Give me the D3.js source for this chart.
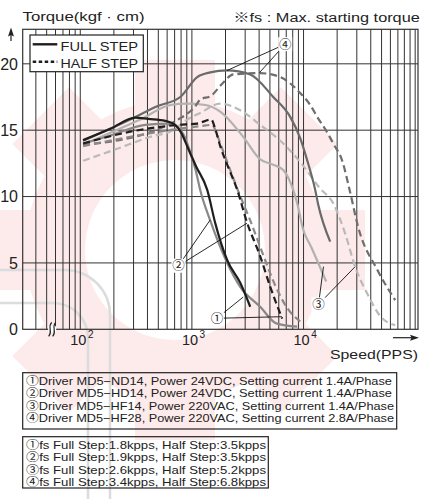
<!DOCTYPE html>
<html><head><meta charset="utf-8">
<script src="https://cdn.jsdelivr.net/npm/d3@7"></script>
<style>body{margin:0;background:#fff}svg{display:block}</style>
</head><body><svg id="c" width="433" height="499"></svg>
<script>
// ---------------- data ----------------
const torqueTicks = [0, 5, 10, 15, 20];
const speedGrid = [40, 50, 60, 70, 80, 90, 100, 200, 300, 400, 500, 600, 700, 800, 900,
  1000, 2000, 3000, 4000, 5000, 6000, 7000, 8000, 9000, 10000, 20000, 30000, 40000, 50000,
  60000, 70000, 80000, 90000, 100000];
const decadeTicks = [100, 1000, 10000];
const decadeExps = ["2", "3", "4"];

// [speed (pps), torque (kgf·cm)]
const s1Full = [[106,14.25],[186,15.1],[311,15.95],[406,15.85],[577,15.7],[709,15.4],[803,14.8],[927,13.6],[1094,12.25],[1372,10.5],[1618,8.0],[2072,5.2],[2709,3.5],[3330,1.7]];
const s1Half = [[106,14.0],[286,14.9],[754,15.4],[1116,15.5],[1490,15.8],[1618,15.1],[1794,13.8],[2072,12.4],[2547,10.5],[3130,8.0],[4092,5.5],[5030,3.2],[6441,0.8]];
const s2Full = [[106,14.0],[186,14.6],[382,15.4],[653,15.5],[724,15.3],[872,14.4],[986,13.1],[1094,11.8],[1187,10.5],[1459,8.2],[2072,5.0],[2709,3.2],[4092,1.7],[5692,0.45],[8773,0.2]];
const s2Half = [[106,13.8],[280,14.5],[754,15.1],[1187,15.3],[1521,15.4],[1686,14.6],[1989,13.0],[2547,10.6],[3330,8.2],[4265,5.8],[5576,3.3],[7140,1.6],[9335,0.6]];
const s3Full = [[106,13.9],[186,14.8],[345,15.8],[640,16.9],[908,17.0],[1316,16.9],[1794,16.4],[2883,14.5],[4092,12.8],[5350,12.4],[6575,12.0],[8079,10.5],[8773,9.5],[9930,7.5],[11710,6.2],[15950,3.6]];
const s3Half = [[106,12.7],[214,13.6],[424,14.5],[680,15.0],[908,15.8],[1187,16.3],[1794,17.0],[2709,16.5],[4092,15.4],[6575,14.0],[9335,12.6],[14100,10.6],[18430,9.5],[23610,7.2],[29010,4.7],[37160,2.7],[48580,1.0],[66200,0.3]];
const s4Full = [[106,14.2],[280,15.8],[489,16.8],[786,17.5],[1116,19.0],[1459,19.35],[2059,19.5],[3330,19.2],[5350,17.5],[7596,16.0],[9335,14.4],[10720,12.8],[12720,10.5],[13530,9.4],[17330,6.6]];
const s4Half = [[106,13.9],[470,15.0],[754,15.8],[1071,16.8],[1187,17.3],[1490,17.6],[1869,18.5],[2345,19.2],[4092,19.3],[6180,19.0],[9335,17.8],[11470,16.9],[13260,16.0],[16630,14.7],[18430,14.0],[22190,12.7],[26180,10.3],[30860,7.7],[45650,4.5],[66200,2.2]];

const legendLabels = ["FULL STEP", "HALF STEP"];
const driverNotes = [
  "①Driver MD5−ND14, Power 24VDC, Setting current 1.4A/Phase",
  "②Driver MD5−HD14, Power 24VDC, Setting current 1.4A/Phase",
  "③Driver MD5−HF14, Power 220VAC, Setting current 1.4A/Phase",
  "④Driver MD5−HF28, Power 220VAC, Setting current 2.8A/Phase"];
const fsNotes = [
  "①fs Full Step:1.8kpps, Half Step:3.5kpps",
  "②fs Full Step:1.9kpps, Half Step:3.5kpps",
  "③fs Full Step:2.6kpps, Half Step:5.2kpps",
  "④fs Full Step:3.4kpps, Half Step:6.8kpps"];
// callouts: label position and target points, in data units
const callouts = [
  {t:"①", at:[1675,0.83], to:[[2883,2.43],[6400,0.95]]},
  {t:"②", at:[759,4.79], to:[[1459,8.24],[3110,7.99]]},
  {t:"③", at:[13614,1.88], to:[[15090,4.72],[29010,4.72]]},
  {t:"④", at:[6852,21.48], to:[[2059,19.49],[4033,19.34]]}];

// ---------------- drawing ----------------
const svg = d3.select("#c");
const L = 22.7, R = 418, T = 29.3, B = 329.3;
const x = d3.scaleLog().domain([30.5, 106000]).range([L, R]);
const y = d3.scaleLinear().domain([0, 22.6]).range([B, T]);
const FONT = "'Liberation Sans', Arial, 'Noto Sans CJK KR', sans-serif";

// faint watermark
const wm = svg.append("g");
const gcx = 175, gcy = 250;
const teeth = d3.range(8).map(i => i * 45);
wm.selectAll("rect.tooth").data(teeth).join("rect")
  .attr("x", -40).attr("y", -190).attr("width", 80).attr("height", 60)
  .attr("transform", d => `translate(${gcx},${gcy}) rotate(${d})`)
  .attr("fill", "#fdeaea");
wm.append("path").attr("transform", `translate(${gcx},${gcy})`)
  .attr("d", d3.arc()({innerRadius: 90, outerRadius: 150, startAngle: 0, endAngle: 2 * Math.PI}))
  .attr("fill", "#fdeaea");
wm.append("rect").attr("x", -90).attr("y", 270).attr("width", 200).attr("height", 300).attr("rx", 45)
  .attr("fill", "none").attr("stroke", "#dcdcdc").attr("stroke-width", 2.5);
wm.append("rect").attr("x", -90).attr("y", 303).attr("width", 178).attr("height", 250).attr("rx", 35)
  .attr("fill", "none").attr("stroke", "#dcdcdc").attr("stroke-width", 2.5);

// grid
svg.append("g").selectAll("line").data(speedGrid).join("line")
  .attr("x1", d => x(d)).attr("x2", d => x(d)).attr("y1", T).attr("y2", B)
  .attr("stroke", "#333").attr("stroke-width", 1);
svg.append("g").selectAll("line").data(torqueTicks.filter(d => d > 0)).join("line")
  .attr("x1", L).attr("x2", R).attr("y1", d => y(d)).attr("y2", d => y(d))
  .attr("stroke", "#333").attr("stroke-width", 1);
svg.append("rect").attr("x", L).attr("y", T).attr("width", R - L).attr("height", B - T)
  .attr("fill", "none").attr("stroke", "#333").attr("stroke-width", 1.2);

// y labels
svg.append("g").selectAll("text").data(torqueTicks).join("text")
  .attr("x", 18).attr("y", d => y(d)).attr("dy", "0.36em").attr("text-anchor", "end")
  .attr("font-family", FONT).attr("font-size", 16).attr("fill", "#222").text(d => d);

// x labels
const xl = svg.append("g").selectAll("text").data(decadeTicks).join("text")
  .attr("x", d => x(d) - 10).attr("y", 345)
  .attr("font-family", FONT).attr("font-size", 14.5).attr("fill", "#222");
xl.append("tspan").text("10");
xl.append("tspan").attr("font-size", 10).attr("dy", -7).attr("dx", 1.5).text((d, i) => decadeExps[i]);

// axis break mark
const bx = x(56);
svg.append("rect").attr("x", bx - 4).attr("y", B - 3).attr("width", 8).attr("height", 6).attr("fill", "#fff");
[-2, 2].forEach(o => {
  svg.append("path").attr("d", `M${bx + o - 1.5},${B + 7} C${bx + o + 3},${B + 2} ${bx + o - 3},${B - 2} ${bx + o + 1.5},${B - 7}`)
    .attr("fill", "none").attr("stroke", "#222").attr("stroke-width", 1.2);
});

// curves
const line = d3.line().x(d => x(d[0])).y(d => y(d[1])).curve(d3.curveMonotoneX);
const seriesDefs = [
  {d: s3Half, c: "#bababa", dash: "7,4"},
  {d: s3Full, c: "#b2b2b2", dash: null},
  {d: s4Half, c: "#6e6e6e", dash: "7,4"},
  {d: s4Full, c: "#6a6a6a", dash: null},
  {d: s2Half, c: "#8a8a8a", dash: "7,4"},
  {d: s2Full, c: "#888888", dash: null},
  {d: s1Half, c: "#1e1e1e", dash: "7,4"},
  {d: s1Full, c: "#1e1e1e", dash: null}];
svg.append("g").selectAll("path").data(seriesDefs).join("path")
  .attr("d", s => line(s.d)).attr("fill", "none").attr("stroke", s => s.c)
  .attr("stroke-width", 2.2).attr("stroke-dasharray", s => s.dash);

// callouts
const cg = svg.append("g");
callouts.forEach(c => {
  c.to.forEach(p => cg.append("line")
    .attr("x1", x(c.at[0])).attr("y1", y(c.at[1])).attr("x2", x(p[0])).attr("y2", y(p[1]))
    .attr("stroke", "#111").attr("stroke-width", 0.9));
});
callouts.forEach(c => {
  cg.append("rect").attr("x", x(c.at[0]) - 7).attr("y", y(c.at[1]) - 7).attr("width", 14).attr("height", 14).attr("fill", "#fff");
  cg.append("text").attr("x", x(c.at[0])).attr("y", y(c.at[1])).attr("dy", "0.36em").attr("text-anchor", "middle")
    .attr("font-family", "'Noto Sans CJK KR', 'DejaVu Sans', sans-serif").attr("font-size", 12.5).attr("fill", "#222").text(c.t);
});

// legend
const lg = svg.append("g");
lg.append("rect").attr("x", 30).attr("y", 35).attr("width", 113.3).attr("height", 36.7)
  .attr("fill", "#fff").attr("stroke", "#222").attr("stroke-width", 1.2);
legendLabels.forEach((t, i) => {
  const yy = 44.3 + i * 17.4;
  lg.append("line").attr("x1", 32.7).attr("x2", 57.3).attr("y1", yy).attr("y2", yy)
    .attr("stroke", "#1e1e1e").attr("stroke-width", 2.4).attr("stroke-dasharray", i ? "3.5,2.5" : null);
  lg.append("text").attr("x", 60.5).attr("y", yy + 6.2).attr("font-family", FONT).attr("font-size", 13.5)
    .attr("fill", "#222").attr("textLength", 77.5).attr("lengthAdjust", "spacingAndGlyphs").text(t);
});

// titles
svg.append("text").attr("x", 22.5).attr("y", 21).attr("font-family", FONT).attr("font-size", 13)
  .attr("fill", "#222").attr("textLength", 122).attr("lengthAdjust", "spacingAndGlyphs").text("Torque(kgf · cm)");
svg.append("text").attr("x", 233.3).attr("y", 21.5).attr("font-family", FONT).attr("font-size", 12.5)
  .attr("fill", "#222").attr("textLength", 186.5).attr("lengthAdjust", "spacingAndGlyphs").text("※fs : Max. starting torque");
svg.append("text").attr("x", 330).attr("y", 359).attr("font-family", FONT).attr("font-size", 13.5)
  .attr("fill", "#222").attr("textLength", 88).attr("lengthAdjust", "spacingAndGlyphs").text("Speed(PPS)");

// arrows
svg.append("line").attr("x1", 393).attr("x2", 413).attr("y1", 337.7).attr("y2", 337.7).attr("stroke", "#222").attr("stroke-width", 1.2);
svg.append("path").attr("d", "M419,337.7 L410,334.7 L411.5,337.7 L410,340.7 Z").attr("fill", "#222");
svg.append("line").attr("x1", 11).attr("x2", 11).attr("y1", 41).attr("y2", 33).attr("stroke", "#222").attr("stroke-width", 1.2);
svg.append("path").attr("d", "M11,27.5 L8,36.5 L11,35 L14,36.5 Z").attr("fill", "#222");

// notes boxes
const nb1 = svg.append("g");
nb1.append("rect").attr("x", 22.7).attr("y", 372.7).attr("width", 374).attr("height", 56.3)
  .attr("fill", "none").attr("stroke", "#222").attr("stroke-width", 1.2);
nb1.selectAll("text").data(driverNotes).join("text")
  .attr("x", 26).attr("y", (d, i) => 385 + i * 12.3).attr("font-family", FONT).attr("font-size", 11.5)
  .attr("fill", "#222").attr("textLength", (d, i) => i < 2 ? 366 : 368).attr("lengthAdjust", "spacingAndGlyphs").text(d => d);
const nb2 = svg.append("g");
nb2.append("rect").attr("x", 22.7).attr("y", 436.7).attr("width", 245.6).attr("height", 51.3)
  .attr("fill", "none").attr("stroke", "#222").attr("stroke-width", 1.2);
nb2.selectAll("text").data(fsNotes).join("text")
  .attr("x", 26).attr("y", (d, i) => 449 + i * 12.3).attr("font-family", FONT).attr("font-size", 11.5)
  .attr("fill", "#222").attr("textLength", 240).attr("lengthAdjust", "spacingAndGlyphs").text(d => d);
</script></body></html>
